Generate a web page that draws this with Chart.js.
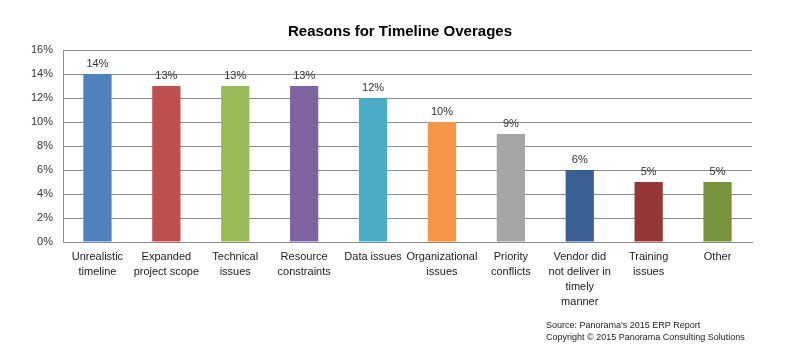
<!DOCTYPE html>
<html><head><meta charset="utf-8">
<script src="https://cdn.jsdelivr.net/npm/chart.js@4"></script>
<style>html,body{margin:0;padding:0;background:#fff}#wrap{width:790px;height:354px;position:relative}</style>
</head><body><div id="wrap"><canvas id="c" width="790" height="354"></canvas></div>
<script>
const categories = [["Unrealistic","timeline"],["Expanded","project scope"],["Technical","issues"],["Resource","constraints"],["Data issues"],["Organizational","issues"],["Priority","conflicts"],["Vendor did","not deliver in","timely","manner"],["Training","issues"],["Other"]];
const values = [14,13,13,13,12,10,9,6,5,5];
const barColors = ["#4F81BD","#C0504D","#9BBB59","#8064A2","#4BACC6","#F79646","#A5A5A5","#3A5F94","#953735","#77933C"];
const yTicks = [0,2,4,6,8,10,12,14,16];
const titleText = "Reasons for Timeline Overages";
const sourceLines = ["Source: Panorama's 2015 ERP Report","Copyright \u00A9 2015 Panorama Consulting Solutions"];
const FONT = "'Liberation Sans', Arial, sans-serif";

const extras = {
  id:'extras',
  afterDatasetsDraw(chart){
    const ctx = chart.ctx;
    const meta = chart.getDatasetMeta(0);
    ctx.save();
    ctx.fillStyle = '#333';
    ctx.font = '11px ' + FONT;
    ctx.textAlign = 'center';
    ctx.textBaseline = 'bottom';
    meta.data.forEach((bar,i)=>{
      ctx.fillText(values[i] + '%', bar.x, bar.y - 5);
    });
    ctx.restore();
  },
  afterDraw(chart){
    const ctx = chart.ctx;
    ctx.save();
    ctx.fillStyle = '#000';
    ctx.font = 'bold 15px ' + FONT;
    ctx.textAlign = 'center';
    ctx.textBaseline = 'middle';
    ctx.fillText(titleText, 400, 32);
    ctx.font = '9px ' + FONT;
    ctx.fillStyle = '#222';
    ctx.textAlign = 'left';
    ctx.fillText(sourceLines[0], 546, 326);
    ctx.fillText(sourceLines[1], 546, 338);
    ctx.restore();
  }
};

new Chart(document.getElementById('c'), {
  type:'bar',
  data:{labels:categories, datasets:[{data:values, backgroundColor:barColors, barPercentage:0.41, categoryPercentage:1}]},
  options:{
    responsive:false, animation:false,
    layout:{padding:{top:50,right:38,left:0,bottom:0}},
    plugins:{legend:{display:false}, tooltip:{enabled:false}},
    scales:{
      y:{min:0,max:16,
        afterFit(s){ s.width = 63; },
        afterBuildTicks(s){ s.ticks = yTicks.map(v=>({value:v})); },
        ticks:{callback:v=>v+'%', color:'#333', font:{family:FONT,size:11}, padding:10},
        grid:{color:'#8c8c8c', drawTicks:false, lineWidth:1},
        border:{color:'#8c8c8c'}
      },
      x:{
        afterFit(s){ s.height = 354-242; },
        ticks:{color:'#222', font:{family:FONT,size:11,lineHeight:1.35}, padding:8, maxRotation:0, autoSkip:false},
        grid:{display:false, drawTicks:false},
        border:{color:'#8c8c8c'}
      }
    }
  },
  plugins:[extras]
});
</script></body></html>
